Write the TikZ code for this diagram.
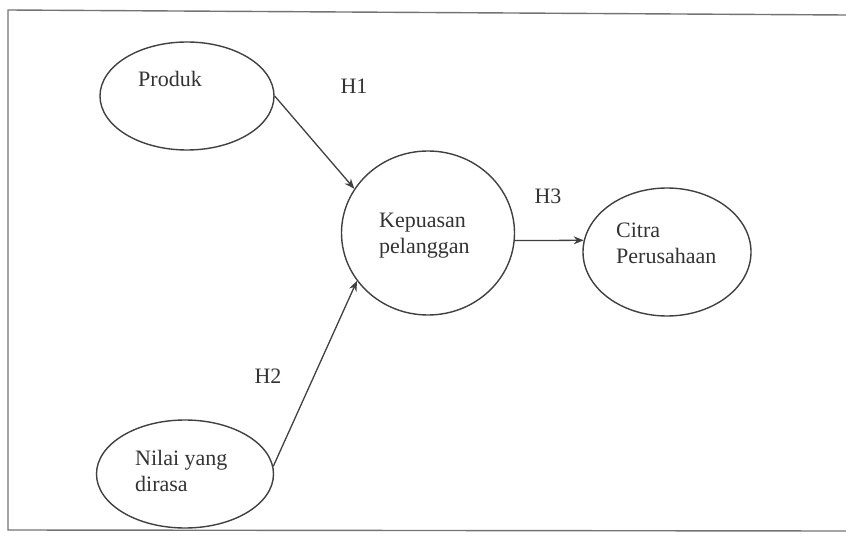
\documentclass[tikz,border=0pt]{standalone}
\usepackage{fontspec}
\setmainfont{Liberation Serif}
\usetikzlibrary{arrows.meta,shapes.geometric}

\begin{document}
\begin{tikzpicture}[x=1pt,y=-1pt,>={Stealth[length=10pt,width=8pt]},
  font=\fontsize{22}{26}\selectfont,
  var/.style={draw=black!75,line width=1.4pt,ellipse,inner sep=0pt},
  txt/.style={anchor=west,align=left,inner sep=0pt,text=black!80},
  hyp/.style={text=black!80},
  arr/.style={->,draw=black!75,line width=1.3pt}]
  \useasboundingbox (0,0) rectangle (846,540);
  % frame
  \draw[black!55,line width=1.4pt] (846,15)--(8,10)--(8,530)--(846,531);
  % variables
  \node[var,minimum width=174pt,minimum height=108pt] (prod) at (187,96) {};
  \node[var,minimum width=173pt,minimum height=164pt] (kep) at (428,233) {};
  \node[var,minimum width=168pt,minimum height=128pt] (cit) at (667,252) {};
  \node[var,minimum width=177pt,minimum height=108pt] (nil) at (185,474) {};
  \node[txt] (tprod) at (138,79) {Produk};
  \node[txt] (tkep) at (379,236) {Kepuasan\\pelanggan};
  \node[txt] (tcit) at (616,243) {Citra\\Perusahaan};
  \node[txt] (tnil) at (135,471) {Nilai yang\\dirasa};
  % hypotheses
  \node[hyp] (h1) at (354,86) {H1};
  \node[hyp] (h3) at (548,196) {H3};
  \node[hyp] (h2) at (268,376) {H2};
  \draw[arr] (prod.east)--(kep.149);
  \draw[arr] (nil.5)--(kep.214);
  \draw[arr] (kep.-5)--(cit.172);
\end{tikzpicture}
\end{document}
